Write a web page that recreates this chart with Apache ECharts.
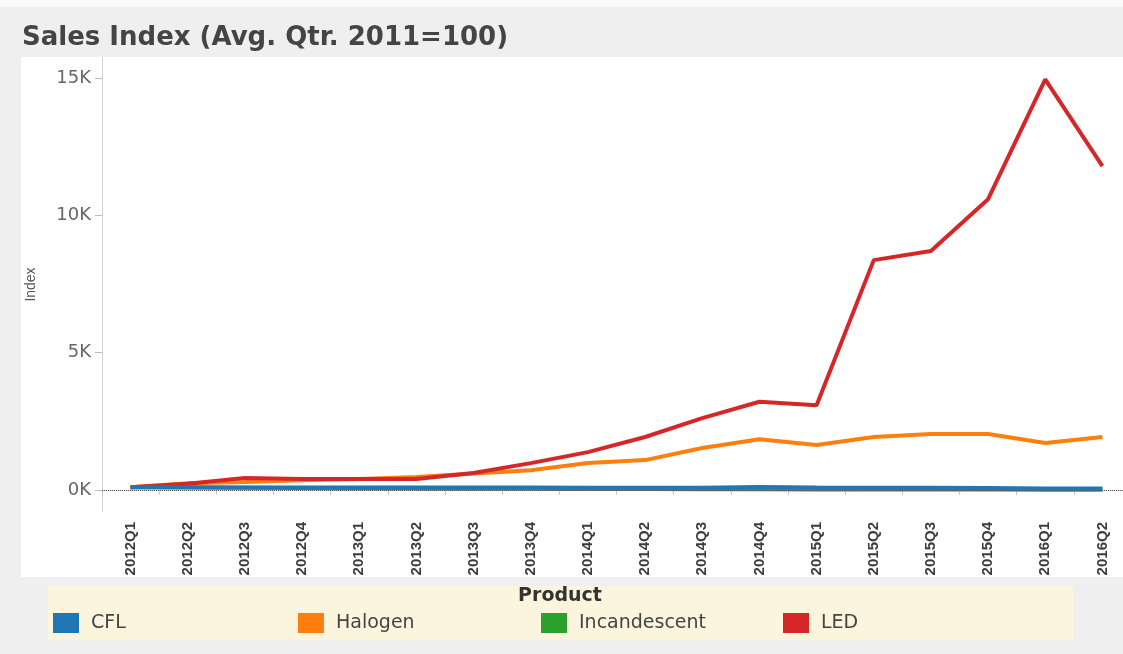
<!DOCTYPE html>
<html>
<head>
<meta charset="utf-8">
<script src="https://cdn.jsdelivr.net/npm/echarts@6/dist/echarts.min.js"></script>
<style>
  html, body { margin: 0; padding: 0; background: #efefef; overflow: hidden; }
  /* a bit wider than the window: the last band is cut at the right edge like the original */
  #main { width: 1131px; height: 654px; }
</style>
</head>
<body>
<div id="main"></div>
<script>
// quarters on the x axis
const quarters = ['2012Q1', '2012Q2', '2012Q3', '2012Q4', '2013Q1', '2013Q2', '2013Q3', '2013Q4',
  '2014Q1', '2014Q2', '2014Q3', '2014Q4', '2015Q1', '2015Q2', '2015Q3', '2015Q4', '2016Q1', '2016Q2'];

// sales index per product (avg. qtr. 2011 = 100)
const cfl = [100, 100, 95, 95, 90, 90, 95, 90, 85, 80, 85, 110, 90, 85, 80, 70, 60, 55];
const halogen = [100, 250, 290, 360, 400, 470, 600, 720, 980, 1090, 1530, 1850, 1640, 1930, 2040, 2040, 1710, 1930];
const incandescent = [100, 90, 80, 70, 60, 55, 50, 45, 40, 35, 30, 25, 20, 20, 15, 15, 12, 10];
const led = [100, 230, 440, 400, 400, 400, 620, 980, 1380, 1930, 2620, 3215, 3090, 8370, 8700, 10590, 14950, 11790];

const yTicks = [0, 5000, 10000, 15000];
const products = ['CFL', 'Halogen', 'Incandescent', 'LED'];
const colors = ['#1f77b4', '#ff7f0e', '#2ca02c', '#d62728'];
const legendLeft = [48, 293, 536, 778];

const chart = echarts.init(document.getElementById('main'));

function lineSeries (name, data, color, z) {
  return {
    name: name,
    type: 'line',
    data: data,
    symbol: 'none',
    z: z,
    lineStyle: { width: 4, color: color },
    itemStyle: { color: color }
  };
}

const series = [
  lineSeries('Incandescent', incandescent, colors[2], 2),
  lineSeries('Halogen', halogen, colors[1], 3),
  lineSeries('LED', led, colors[3], 4),
  lineSeries('CFL', cfl, colors[0], 5)
];
// dotted zero reference line
series[0].markLine = {
  silent: true,
  symbol: 'none',
  label: { show: false },
  lineStyle: { type: 'dotted', color: '#555', width: 1 },
  data: [{ yAxis: 0 }]
};

const option = {
  backgroundColor: '#efefef',
  animation: false,
  textStyle: { fontFamily: 'DejaVu Sans, sans-serif' },
  graphic: [
    { type: 'rect', z: -10, silent: true, shape: { x: 0, y: 0, width: 1131, height: 7 }, style: { fill: '#fafafa' } },
    { type: 'rect', z: -10, silent: true, shape: { x: 21, y: 57, width: 1110, height: 520 }, style: { fill: '#ffffff' } },
    { type: 'rect', z: -10, silent: true, shape: { x: 48, y: 586, width: 1025, height: 54 }, style: { fill: '#fcf5de' } },
    {
      type: 'text', silent: true, x: 560, y: 587,
      style: { text: 'Product', textAlign: 'center', font: 'bold 19px DejaVu Sans, sans-serif', fill: '#333' }
    }
  ],
  title: {
    text: 'Sales Index (Avg. Qtr. 2011=100)',
    left: 17,
    top: 20,
    textStyle: { fontFamily: 'DejaVu Sans', fontWeight: 'bold', fontSize: 26, color: '#444' }
  },
  legend: products.map((p, i) => ({
    data: [p],
    left: legendLeft[i],
    top: 608,
    icon: 'rect',
    itemWidth: 26,
    itemHeight: 20,
    selectedMode: false,
    textStyle: { fontSize: 19, color: '#444', padding: [0, 0, 0, 7] }
  })),
  grid: { left: 102, right: 0, top: 57, bottom: 654 - 512, containLabel: false },
  xAxis: {
    type: 'category',
    data: quarters,
    boundaryGap: true,
    axisLine: { lineStyle: { color: '#d4d4d4' } },
    axisTick: { show: true, length: 5, lineStyle: { color: '#c8c8c8' } },
    axisLabel: {
      interval: 0, rotate: 90, margin: 10, fontSize: 15, fontWeight: 'bold', color: '#3c3c3c',
      fontFamily: 'Liberation Sans, Arial, sans-serif'
    },
    splitLine: { show: false }
  },
  yAxis: {
    type: 'value',
    name: 'Index',
    nameLocation: 'middle',
    nameGap: 64,
    nameRotate: 90,
    nameTextStyle: { fontSize: 14, color: '#555', fontFamily: 'Liberation Sans, Arial, sans-serif' },
    min: -800,
    max: 15765,
    axisLine: { show: true, lineStyle: { color: '#d4d4d4' } },
    axisTick: { show: true, length: 7, customValues: yTicks, lineStyle: { color: '#bbb' } },
    axisLabel: {
      customValues: yTicks,
      margin: 11,
      fontSize: 18,
      color: '#666',
      formatter: v => (v / 1000) + 'K'
    },
    splitLine: { show: false }
  },
  series: series
};

chart.setOption(option);
</script>
</body>
</html>
